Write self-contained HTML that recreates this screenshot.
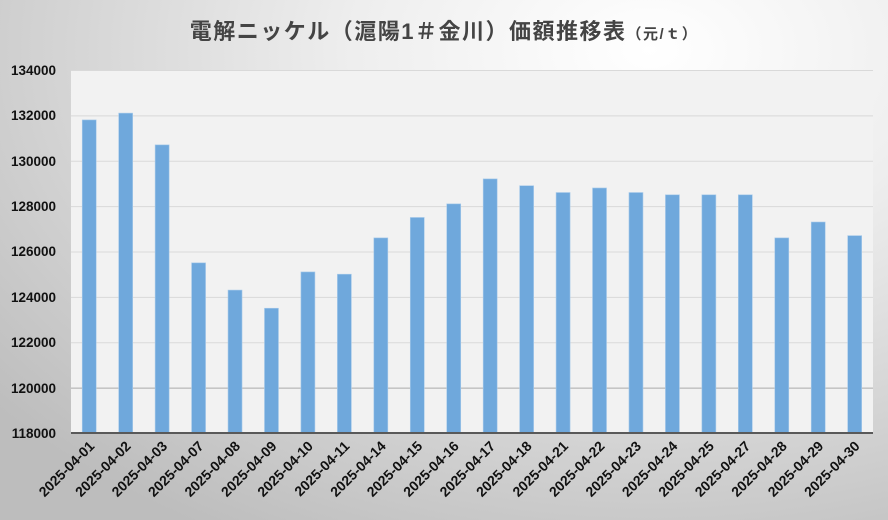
<!DOCTYPE html>
<html><head><meta charset="utf-8"><style>
html,body{margin:0;padding:0}
body{width:888px;height:520px;overflow:hidden;background:radial-gradient(ellipse 850px 560px at 650px 50px,#ffffff 0%,#eeeeee 35%,#bdbdbd 100%);font-family:"Liberation Sans","Noto Sans CJK JP",sans-serif}
</style></head><body>
<svg width="888" height="520" xmlns="http://www.w3.org/2000/svg" style="position:absolute;left:0;top:0">
<text x="444" y="39" text-anchor="middle" font-size="22" letter-spacing="1.5" font-weight="bold" fill="#444" font-family="Liberation Sans, Noto Sans CJK JP, sans-serif">電解ニッケル（滬陽1＃金川）価額推移表<tspan font-size="15">（元/ｔ）</tspan></text>
<rect x="71" y="70" width="802" height="363" fill="#f2f2f2"/>
<g stroke="#d9d9d9" stroke-width="1">
<line x1="71" x2="873" y1="70.5" y2="70.5"/><line x1="71" x2="873" y1="115.9" y2="115.9"/>
<line x1="71" x2="873" y1="161.3" y2="161.3"/><line x1="71" x2="873" y1="206.6" y2="206.6"/>
<line x1="71" x2="873" y1="252" y2="252"/><line x1="71" x2="873" y1="297.4" y2="297.4"/>
<line x1="71" x2="873" y1="342.8" y2="342.8"/><line x1="71" x2="873" y1="388.1" y2="388.1" stroke="#aaa"/>
</g>
<g font-size="13.5" font-weight="bold" fill="#111" text-anchor="end">
<text x="56" y="75">134000</text><text x="56" y="120">132000</text><text x="56" y="166">130000</text><text x="56" y="211">128000</text><text x="56" y="256">126000</text><text x="56" y="302">124000</text><text x="56" y="347">122000</text><text x="56" y="393">120000</text><text x="56" y="438">118000</text>
</g>
<g id="bars" fill="#6fa8dc" stroke="#a9cbea" stroke-width="0.6"></g>
<line x1="71" x2="873" y1="433" y2="433" stroke="#595959" stroke-width="2"/>
<g id="lbl" font-size="14" font-weight="bold" fill="#111" text-anchor="end"></g>
</svg>
<script>
var v=[131800,132100,130700,125500,124300,123500,125100,125000,126600,127500,128100,129200,128900,128600,128800,128600,128500,128500,128500,126600,127300,126700];
var d=["01","02","03","07","08","09","10","11","14","15","16","17","18","21","22","23","24","25","27","28","29","30"];
var ns="http://www.w3.org/2000/svg",b=document.getElementById("bars"),l=document.getElementById("lbl");
var s=363/16000;
for(var i=0;i<22;i++){var cx=71+36.45*(i+0.5);var y=433-(v[i]-118000)*s;
var r=document.createElementNS(ns,"rect");r.setAttribute("x",cx-7);r.setAttribute("y",y);r.setAttribute("width",14);r.setAttribute("height",433-y);b.appendChild(r);
var t=document.createElementNS(ns,"text");t.setAttribute("transform","translate("+(cx+6)+",447) rotate(-45)");t.textContent="2025-04-"+d[i];l.appendChild(t);}
</script>
</body></html>
